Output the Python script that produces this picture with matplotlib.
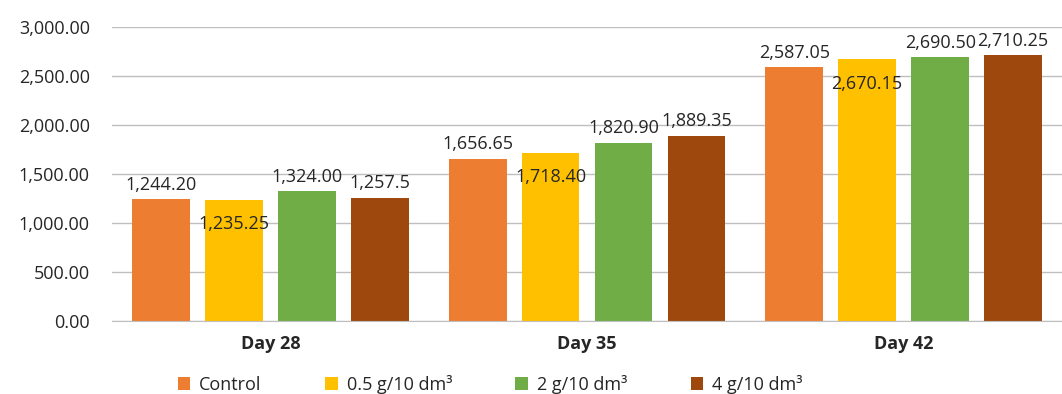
import numpy as np
import matplotlib.pyplot as plt
from matplotlib.patches import Patch

plt.rcParams['font.family'] = ['Open Sans', 'DejaVu Sans']

days = ["Day 28", "Day 35", "Day 42"]
series = ["Control", "0.5 g/10 dm³", "2 g/10 dm³", "4 g/10 dm³"]
control = [1244.20, 1656.65, 2587.05]
dose_05 = [1235.25, 1718.40, 2670.15]
dose_2 = [1324.00, 1820.90, 2690.50]
dose_4 = [1257.5, 1889.35, 2710.25]
labels_05 = ["1,235.25", "1,718.40", "2,670.15"]
labels_other = [
    ["1,244.20", "1,656.65", "2,587.05"],
    ["1,324.00", "1,820.90", "2,690.50"],
    ["1,257.5", "1,889.35", "2,710.25"],
]
colors = ["#ED7D31", "#FFC000", "#70AD47", "#9E480E"]

fig = plt.figure(figsize=(10.62, 3.94), dpi=100)
ax = fig.add_axes([0.1055, 0.185, 0.8945, 0.7465])

x = np.arange(len(days))
width = 0.183
step = 0.2305
values = [control, dose_05, dose_2, dose_4]
bars = []
for i, vals in enumerate(values):
    b = ax.bar(x + (i - 1.5) * step, vals, width, color=colors[i], zorder=2)
    bars.append(b)

# data labels: yellow series sits inside the bar top, others above
txt = "#262626"
fs = 13
other_idx = [0, 2, 3]
for k, i in enumerate(other_idx):
    for rect, lab in zip(bars[i], labels_other[k]):
        ax.annotate(lab, (rect.get_x() + rect.get_width() / 2, rect.get_height()),
                    xytext=(0, 4), textcoords="offset points",
                    ha="center", va="bottom", fontsize=fs, color=txt)
for rect, lab in zip(bars[1], labels_05):
    ax.annotate(lab, (rect.get_x() + rect.get_width() / 2, rect.get_height()),
                xytext=(0, -11), textcoords="offset points",
                ha="center", va="top", fontsize=fs, color=txt)

ax.set_xlim(-0.5, 2.5)
ax.set_ylim(0, 3000)
ax.set_yticks(np.arange(0, 3001, 500))
ax.set_yticklabels([f"{v:,.2f}" for v in np.arange(0, 3001, 500)])
ax.tick_params(axis="y", length=0, labelsize=fs, labelcolor=txt, pad=16)
ax.tick_params(axis="x", length=0, labelsize=fs, labelcolor=txt, pad=10)
ax.set_xticks(x, days, fontweight="bold", fontsize=fs)
ax.grid(axis="y", color="#BFBFBF", linewidth=1, zorder=0)
for s in ["top", "right", "left"]:
    ax.spines[s].set_visible(False)
ax.spines["bottom"].set_color("#BFBFBF")

handles = [Patch(facecolor=c) for c in colors]
fig.legend(handles, series, loc="lower left", bbox_to_anchor=(0.152, -0.04), ncol=4,
           frameon=False, fontsize=fs, handlelength=0.7, handleheight=0.7,
           handletextpad=0.5, columnspacing=3.5, labelcolor=txt)

plt.savefig("out.png", dpi=100)
